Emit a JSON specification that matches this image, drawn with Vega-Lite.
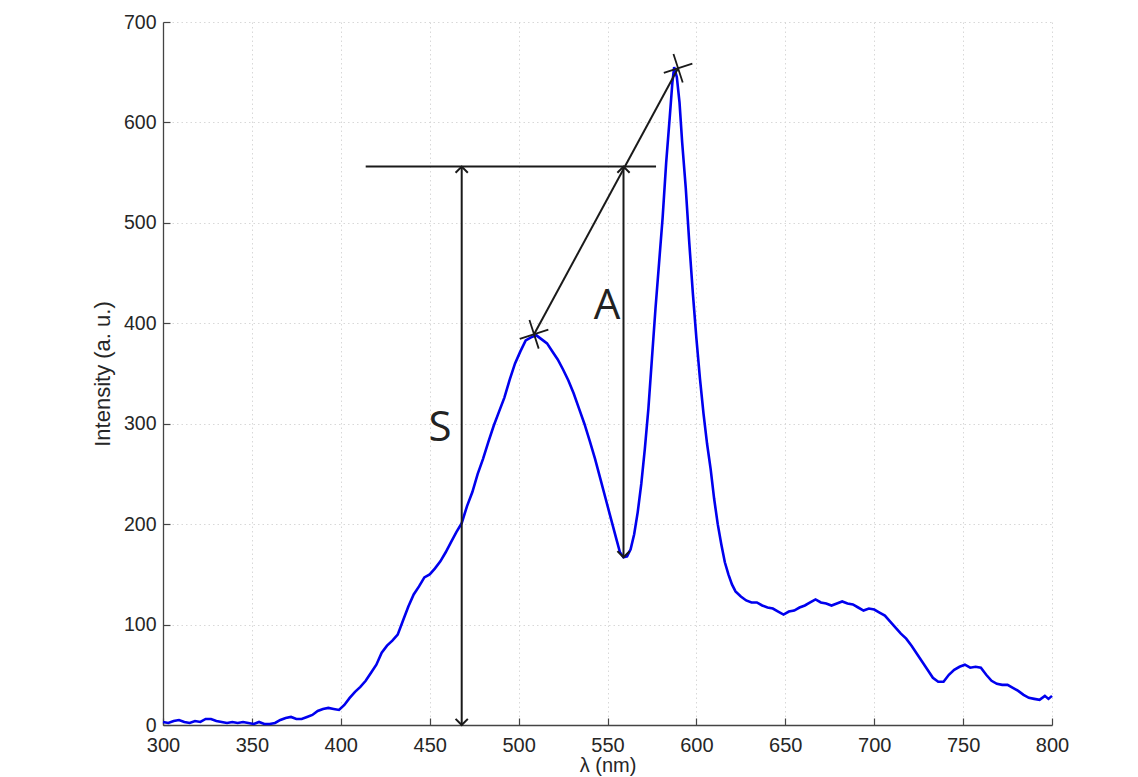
{
  "$schema": "https://vega.github.io/schema/vega-lite/v6.json",
  "autosize": {"type": "none"},
  "padding": {"left": 163, "top": 22, "right": 86, "bottom": 52},
  "width": 889,
  "height": 703,
  "background": "white",
  "config": {
    "view": {"stroke": null},
    "font": "Liberation Sans",
    "axis": {
      "grid": true,
      "gridColor": "#d8d8d8",
      "gridDash": [1.5, 3],
      "gridWidth": 1,
      "domainColor": "#444444",
      "domainWidth": 1.3,
      "tickColor": "#444444",
      "tickSize": -7,
      "tickWidth": 1.2,
      "labelFlush": false,
      "labelFont": "Liberation Sans",
      "labelColor": "#262626",
      "titleFont": "Liberation Sans",
      "titleFontWeight": "normal",
      "titleColor": "#262626"
    }
  },
  "datasets": {
    "spectrum": [
      {"nm":300,"I":3},{"nm":303,"I":2},{"nm":306,"I":4},{"nm":309,"I":5},{"nm":312,"I":3},{"nm":315,"I":2},{"nm":318,"I":4},{"nm":321,"I":3},{"nm":324,"I":6},{"nm":327,"I":6},{"nm":330,"I":4},{"nm":333,"I":3},{"nm":336,"I":2},{"nm":339,"I":3},{"nm":342,"I":2},{"nm":345,"I":3},{"nm":348,"I":2},{"nm":351,"I":1},{"nm":354,"I":3},{"nm":357,"I":1},{"nm":360,"I":1},{"nm":363,"I":2},{"nm":366,"I":5},{"nm":369,"I":7},{"nm":372,"I":8},{"nm":375,"I":6},{"nm":378,"I":6},{"nm":381,"I":8},{"nm":384,"I":10},{"nm":387,"I":14},{"nm":390,"I":16},{"nm":393,"I":17},{"nm":396,"I":16},{"nm":399,"I":15},{"nm":402,"I":20},{"nm":405,"I":27},{"nm":408,"I":33},{"nm":411,"I":38},{"nm":414,"I":44},{"nm":417,"I":52},{"nm":420,"I":60},{"nm":423,"I":72},{"nm":426,"I":79},{"nm":429,"I":84},{"nm":432,"I":90},{"nm":435,"I":104},{"nm":438,"I":118},{"nm":441,"I":130},{"nm":444,"I":138},{"nm":447,"I":147},{"nm":450,"I":150},{"nm":453,"I":156},{"nm":456,"I":163},{"nm":459,"I":172},{"nm":462,"I":182},{"nm":465,"I":192},{"nm":468,"I":201},{"nm":471,"I":218},{"nm":474,"I":232},{"nm":477,"I":250},{"nm":480,"I":265},{"nm":483,"I":282},{"nm":486,"I":298},{"nm":489,"I":312},{"nm":492,"I":326},{"nm":495,"I":344},{"nm":498,"I":360},{"nm":501,"I":372},{"nm":504,"I":383},{"nm":507,"I":386},{"nm":510,"I":388},{"nm":513,"I":384},{"nm":516,"I":380},{"nm":519,"I":372},{"nm":522,"I":364},{"nm":525,"I":354},{"nm":528,"I":343},{"nm":531,"I":330},{"nm":534,"I":315},{"nm":537,"I":300},{"nm":540,"I":283},{"nm":543,"I":265},{"nm":546,"I":245},{"nm":549,"I":225},{"nm":552,"I":205},{"nm":555,"I":185},{"nm":557,"I":172},{"nm":559,"I":167},{"nm":561,"I":168},{"nm":563,"I":175},{"nm":565,"I":190},{"nm":567,"I":212},{"nm":569,"I":240},{"nm":571,"I":275},{"nm":573,"I":315},{"nm":575,"I":365},{"nm":577,"I":415},{"nm":579,"I":460},{"nm":581,"I":505},{"nm":583,"I":560},{"nm":585,"I":605},{"nm":586.5,"I":640},{"nm":587.5,"I":655},{"nm":589,"I":645},{"nm":590.5,"I":620},{"nm":592,"I":580},{"nm":594,"I":535},{"nm":596,"I":480},{"nm":598,"I":430},{"nm":600,"I":385},{"nm":602,"I":345},{"nm":604,"I":310},{"nm":606,"I":280},{"nm":608,"I":255},{"nm":610,"I":225},{"nm":612,"I":200},{"nm":614,"I":180},{"nm":616,"I":162},{"nm":618,"I":150},{"nm":620,"I":140},{"nm":622,"I":133},{"nm":625,"I":128},{"nm":628,"I":124},{"nm":631,"I":122},{"nm":634,"I":122},{"nm":637,"I":119},{"nm":640,"I":117},{"nm":643,"I":116},{"nm":646,"I":113},{"nm":649,"I":110},{"nm":652,"I":113},{"nm":655,"I":114},{"nm":658,"I":117},{"nm":661,"I":119},{"nm":664,"I":122},{"nm":667,"I":125},{"nm":670,"I":122},{"nm":673,"I":121},{"nm":676,"I":119},{"nm":679,"I":121},{"nm":682,"I":123},{"nm":685,"I":121},{"nm":688,"I":120},{"nm":691,"I":117},{"nm":694,"I":114},{"nm":697,"I":116},{"nm":700,"I":115},{"nm":703,"I":112},{"nm":706,"I":109},{"nm":709,"I":103},{"nm":712,"I":97},{"nm":715,"I":91},{"nm":718,"I":86},{"nm":721,"I":79},{"nm":724,"I":71},{"nm":727,"I":63},{"nm":730,"I":55},{"nm":733,"I":47},{"nm":736,"I":43},{"nm":739,"I":43},{"nm":742,"I":50},{"nm":745,"I":55},{"nm":748,"I":58},{"nm":751,"I":60},{"nm":754,"I":57},{"nm":757,"I":58},{"nm":760,"I":57},{"nm":763,"I":50},{"nm":766,"I":44},{"nm":769,"I":41},{"nm":772,"I":40},{"nm":775,"I":40},{"nm":778,"I":37},{"nm":781,"I":34},{"nm":784,"I":30},{"nm":787,"I":27},{"nm":790,"I":26},{"nm":793,"I":25},{"nm":796,"I":29},{"nm":798,"I":26},{"nm":800,"I":29}
    ],
    "segments": [
      {"x": 414, "x2": 577.3, "y": 556, "y2": 556},
      {"x": 468, "x2": 468, "y": 0, "y2": 556},
      {"x": 559, "x2": 559, "y": 167, "y2": 556},
      {"x": 508.7, "x2": 589.7, "y": 389, "y2": 654}
    ],
    "arrows": [
      {"x": 468, "y": 556, "dir": "up"},
      {"x": 468, "y": 0, "dir": "down"},
      {"x": 559, "y": 556, "dir": "up"},
      {"x": 559, "y": 167, "dir": "down"}
    ],
    "peaks": [
      {"x": 508.7, "y": 389},
      {"x": 589.7, "y": 654}
    ],
    "labels": [
      {"x": 455.8, "y": 296, "t": "S"},
      {"x": 549.7, "y": 417, "t": "A"}
    ]
  },
  "layer": [
    {
      "data": {"name": "spectrum"},
      "mark": {"type": "line", "color": "#0000ee", "strokeWidth": 2.6},
      "encoding": {
        "x": {
          "field": "nm", "type": "quantitative",
          "scale": {"domain": [300, 800], "nice": false},
          "axis": {"values": [300,350,400,450,500,550,600,650,700,750,800], "title": "λ (nm)", "titleFontSize": 20, "titlePadding": 0, "labelPadding": 17, "labelFontSize": 20}
        },
        "y": {
          "field": "I", "type": "quantitative",
          "scale": {"domain": [0, 700], "nice": false},
          "axis": {"values": [0,100,200,300,400,500,600,700], "title": "Intensity (a. u.)", "titleFontSize": 22, "titlePadding": 9, "labelPadding": 14, "labelFontSize": 19.5}
        }
      }
    },
    {
      "data": {"name": "segments"},
      "mark": {"type": "rule", "color": "#1a1a1a", "strokeWidth": 2},
      "encoding": {
        "x": {"field": "x", "type": "quantitative"},
        "x2": {"field": "x2"},
        "y": {"field": "y", "type": "quantitative"},
        "y2": {"field": "y2"}
      }
    },
    {
      "data": {"name": "arrows"},
      "mark": {"type": "point", "filled": false, "color": "#1a1a1a", "strokeWidth": 2, "size": 150, "opacity": 1},
      "encoding": {
        "x": {"field": "x", "type": "quantitative"},
        "y": {"field": "y", "type": "quantitative"},
        "shape": {"field": "dir", "type": "nominal", "scale": {"domain": ["up", "down"], "range": ["M-1,1L0,0L1,1", "M-1,-1L0,0L1,-1"]}, "legend": null}
      }
    },
    {
      "data": {"name": "peaks"},
      "mark": {"type": "point", "filled": false, "color": "#1a1a1a", "strokeWidth": 1.8, "size": 900, "shape": "M-1,0L1,0M0,-1L0,1", "angle": -18, "opacity": 1},
      "encoding": {
        "x": {"field": "x", "type": "quantitative"},
        "y": {"field": "y", "type": "quantitative"}
      }
    },
    {
      "data": {"name": "labels"},
      "mark": {"type": "text", "font": "Open Sans", "fontSize": 42, "color": "#222222", "align": "center", "baseline": "middle"},
      "encoding": {
        "x": {"field": "x", "type": "quantitative"},
        "y": {"field": "y", "type": "quantitative"},
        "text": {"field": "t"}
      }
    }
  ]
}
